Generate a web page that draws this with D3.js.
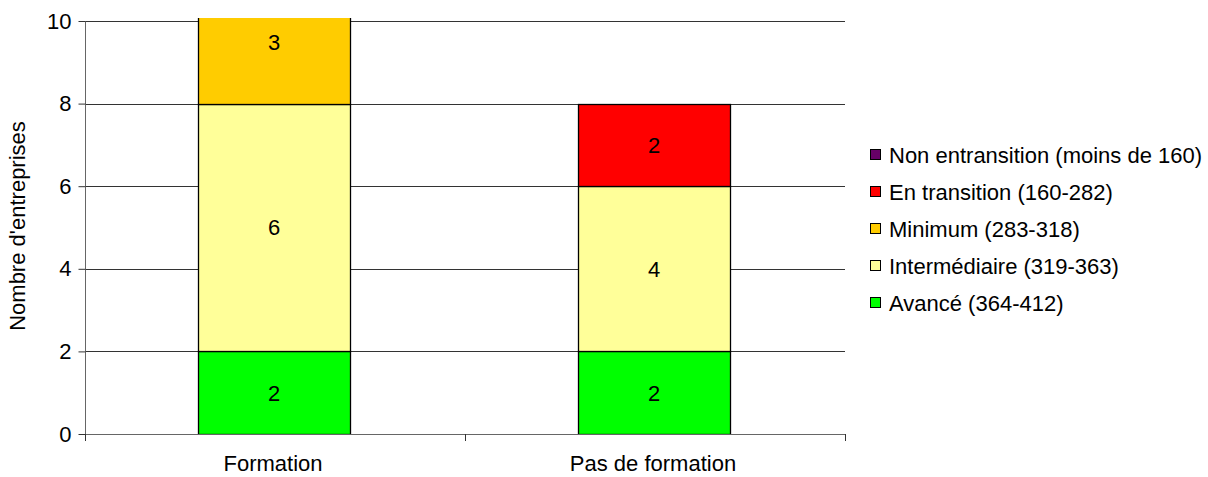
<!DOCTYPE html>
<html>
<head>
<meta charset="utf-8">
<script src="https://cdn.jsdelivr.net/npm/d3@7"></script>
<style>
  html, body { margin: 0; padding: 0; background: #fff; }
  svg { display: block; font-family: "Liberation Sans", Arial, sans-serif; }
</style>
</head>
<body>
<svg id="chart" width="1208" height="477"></svg>
<script>
// Categories and counts per score band
const categories = ["Formation", "Pas de formation"];
const seriesNames = [
  "Avancé (364-412)",
  "Intermédiaire (319-363)",
  "Minimum (283-318)",
  "En transition (160-282)",
  "Non entransition (moins de 160)"
];
const avance = [2, 2];
const intermediaire = [6, 4];
const minimum = [3, 0];
const enTransition = [0, 2];
const nonEnTransition = [0, 0];
const seriesColors = ["#00FF00", "#FFFF99", "#FFCC00", "#FF0000", "#660066"];
const yTicks = [0, 2, 4, 6, 8, 10];

const seriesValues = [avance, intermediaire, minimum, enTransition, nonEnTransition];
const rows = categories.map((c, i) => {
  const r = { cat: c };
  seriesNames.forEach((s, k) => { r[s] = seriesValues[k][i]; });
  return r;
});
const stacked = d3.stack().keys(seriesNames)(rows);

const svg = d3.select("#chart");
const plot = { left: 85, right: 845, top: 21, bottom: 434 };

const x = d3.scaleBand().domain(categories).range([plot.left, plot.right]).paddingInner(0.6).paddingOuter(0.3);
const xOuter = d3.scaleBand().domain(categories).range([plot.left, plot.right]);
const y = d3.scaleLinear().domain([0, 10]).range([plot.bottom, plot.top]);

const fontSize = 22;

// Clip region for the bars (values above the axis maximum are cut off)
svg.append("clipPath").attr("id", "plotClip")
  .append("rect")
  .attr("x", plot.left).attr("y", plot.top - 3)
  .attr("width", plot.right - plot.left).attr("height", plot.bottom - plot.top + 3);

// Horizontal gridlines
svg.append("g").selectAll("line").data(yTicks.filter(t => t > 0)).join("line")
  .attr("x1", plot.left).attr("x2", plot.right)
  .attr("y1", d => Math.round(y(d)) + 0.5).attr("y2", d => Math.round(y(d)) + 0.5)
  .attr("stroke", "#333").attr("stroke-width", 1);

// Stacked bars
const barsG = svg.append("g").attr("clip-path", "url(#plotClip)");
stacked.forEach((layer, k) => {
  barsG.append("g").selectAll("rect").data(layer.filter(d => d[1] - d[0] > 0)).join("rect")
    .attr("x", d => Math.round(x(d.data.cat)) - 0.5)
    .attr("width", Math.round(x.bandwidth()))
    .attr("y", d => Math.round(y(d[1])) + 0.5)
    .attr("height", d => Math.round(y(d[0])) - Math.round(y(d[1])))
    .attr("fill", seriesColors[k])
    .attr("stroke", "#000").attr("stroke-width", 1.3);
});

// Value labels centred in each segment
stacked.forEach((layer, k) => {
  svg.append("g").selectAll("text").data(layer.filter(d => d[1] - d[0] > 0)).join("text")
    .attr("x", d => x(d.data.cat) + x.bandwidth() / 2 - 1)
    .attr("y", d => y((d[0] + d[1]) / 2))
    .attr("dy", "0.36em")
    .attr("text-anchor", "middle")
    .attr("font-size", fontSize)
    .attr("fill", "#000")
    .text(d => d[1] - d[0]);
});

// Y axis
const yAxis = d3.axisLeft(y).tickValues(yTicks).tickSize(7).tickPadding(7).tickFormat(d3.format("d"));
const yg = svg.append("g").attr("transform", `translate(${plot.left + 0.5},0)`).call(yAxis);
yg.select(".domain").attr("stroke", "#666").attr("d", `M0,${plot.top}V${plot.bottom + 7}`);
yg.selectAll(".tick line").attr("stroke", "#333");
yg.selectAll(".tick text").attr("font-size", fontSize).attr("font-family", "Liberation Sans, Arial, sans-serif").attr("fill", "#000");

// X axis baseline with category boundary ticks
svg.append("line")
  .attr("x1", plot.left).attr("x2", plot.right)
  .attr("y1", plot.bottom + 0.5).attr("y2", plot.bottom + 0.5)
  .attr("stroke", "#666").attr("stroke-width", 1);
const boundaries = categories.map(c => xOuter(c)).concat([plot.right]);
svg.append("g").selectAll("line").data(boundaries).join("line")
  .attr("x1", d => Math.round(d) + 0.5).attr("x2", d => Math.round(d) + 0.5)
  .attr("y1", plot.bottom).attr("y2", plot.bottom + 7)
  .attr("stroke", "#333");
svg.append("g").selectAll("text").data(categories).join("text")
  .attr("x", d => xOuter(d) + xOuter.bandwidth() / 2 - 2)
  .attr("y", 471)
  .attr("text-anchor", "middle")
  .attr("font-size", fontSize)
  .attr("fill", "#000")
  .text(d => d);

// Y axis title
svg.append("text")
  .attr("transform", `translate(25,226) rotate(-90)`)
  .attr("text-anchor", "middle")
  .attr("font-size", fontSize)
  .attr("fill", "#000")
  .text("Nombre d'entreprises");

// Legend (top-most series first)
const legendItems = seriesNames.map((s, k) => ({ name: s, color: seriesColors[k] })).reverse();
const lg = svg.append("g").selectAll("g").data(legendItems).join("g")
  .attr("transform", (d, i) => `translate(870,${155 + i * 37})`);
lg.append("rect")
  .attr("x", 0.5).attr("y", -5.5).attr("width", 10).attr("height", 10)
  .attr("fill", d => d.color).attr("stroke", "#000").attr("stroke-width", 1);
lg.append("text")
  .attr("x", 19).attr("y", 0).attr("dy", "0.36em")
  .attr("font-size", fontSize)
  .attr("fill", "#000")
  .text(d => d.name);
</script>
</body>
</html>
